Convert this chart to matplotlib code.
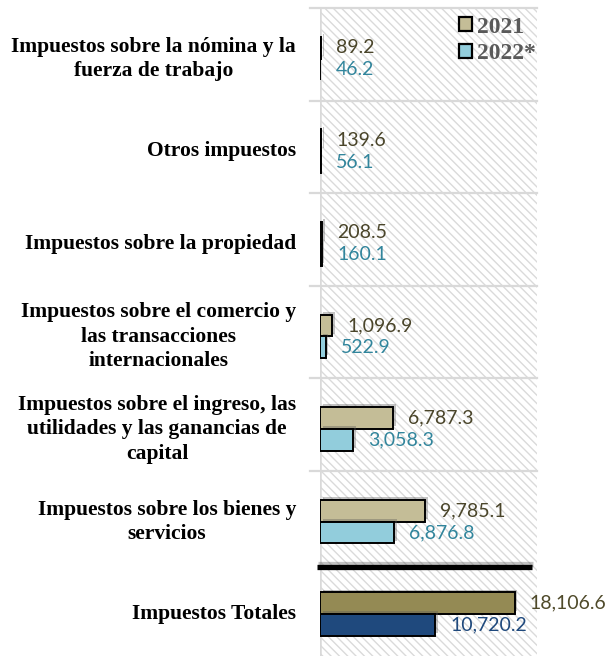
import matplotlib
matplotlib.use("Agg")
import matplotlib.pyplot as plt
import matplotlib.patheffects as pe
from matplotlib.patches import Rectangle, Patch
import matplotlib.transforms as mtransforms

# categories from bottom to top
categorias = [
    "Impuestos Totales",
    "Impuestos sobre los bienes y\nservicios",
    "Impuestos sobre el ingreso, las\nutilidades y las ganancias de\ncapital",
    "Impuestos sobre el comercio y\nlas transacciones\ninternacionales",
    "Impuestos sobre la propiedad",
    "Otros impuestos",
    "Impuestos sobre la nómina y la\nfuerza de trabajo",
]
v2021 = [18106.6, 9785.1, 6787.3, 1096.9, 208.5, 139.6, 89.2]
v2022 = [10720.2, 6876.8, 3058.3, 522.9, 160.1, 56.1, 46.2]
series = ["2021", "2022*"]

col_2021 = "#c4bd97"
col_2022 = "#92cddc"
col_tot_2021 = "#948a54"
col_tot_2022 = "#1f497d"
lab_2021 = "#4a452a"
lab_2022 = "#31859c"

plt.rcParams['hatch.linewidth'] = 1.0

fig = plt.figure(figsize=(6.16, 6.56), dpi=100)
ax = fig.add_axes([320/616, 0, 217/616, 1 - 8/656])
ax.set_xlim(0, 20200)
ax.set_ylim(-0.5, 6.5)

# striped background
bg = Rectangle((0, 0), 1, 1, transform=ax.transAxes, facecolor="white",
               edgecolor="#dadada", hatch="\\\\\\\\", lw=0, zorder=0)
ax.add_patch(bg)

trans = mtransforms.blended_transform_factory(ax.transAxes, ax.transData)
for yb in [1.5, 2.5, 3.5, 4.5, 5.5, 6.5]:
    ax.plot([-0.045, 1], [yb, yb], color="#d9d9d9", lw=1.6, transform=trans,
            clip_on=False, zorder=1)
ax.axvline(0, color="#d9d9d9", lw=1.8, zorder=1)

shadow = [pe.SimplePatchShadow(offset=(2, 2), shadow_rgbFace="#555555", alpha=0.35),
          pe.Normal()]

h = 0.235
for i in range(len(categorias)):
    c1 = col_tot_2021 if i == 0 else col_2021
    c2 = col_tot_2022 if i == 0 else col_2022
    t1 = "#4f4a2a" if i == 0 else lab_2021
    t2 = col_tot_2022 if i == 0 else lab_2022
    y1 = i + 0.07
    y2 = i - 0.165
    b1 = ax.barh(y1, v2021[i], height=h, color=c1, edgecolor="black", lw=1.4, zorder=3)
    b2 = ax.barh(y2, v2022[i], height=h, color=c2, edgecolor="black", lw=1.4, zorder=3)
    for b in list(b1) + list(b2):
        b.set_path_effects(shadow)
    ax.annotate(f"{v2021[i]:,.1f}", (v2021[i], y1), xytext=(11, 0),
                textcoords="offset points", va="center", ha="left",
                fontsize=14, family="Lato", color=t1, zorder=5)
    ax.annotate(f"{v2022[i]:,.1f}", (v2022[i], y2), xytext=(11, 0),
                textcoords="offset points", va="center", ha="left",
                fontsize=14, family="Lato", color=t2, zorder=5)
    ax.text(-0.11, i - 0.05, categorias[i], transform=trans, ha="right",
            va="center", multialignment="center", fontsize=15.5,
            family="Liberation Serif", fontweight="bold", linespacing=1.3)

# separator between totals and the rest
sep = ax.plot([-0.015, 0.975], [0.46, 0.46], color="black", lw=3.8,
              transform=trans, clip_on=False, zorder=4, solid_capstyle="butt")
sep[0].set_path_effects([pe.SimpleLineShadow(offset=(1, 2), shadow_color="#555555",
                                             alpha=0.35), pe.Normal()])

for s in ax.spines.values():
    s.set_visible(False)
ax.set_xticks([])
ax.set_yticks([])

handles = [Patch(facecolor=col_2021, edgecolor="black", lw=1.6),
           Patch(facecolor=col_2022, edgecolor="black", lw=1.6)]
ax.legend(handles, series, loc="upper right", bbox_to_anchor=(1.05, 1.005),
          frameon=False, handlelength=0.55, handleheight=0.55, handletextpad=0.2,
          labelspacing=0.25, borderaxespad=0.1,
          prop={"family": "Liberation Serif", "weight": "bold", "size": 17},
          labelcolor="#595959")

fig.savefig("out.png", dpi=100)
